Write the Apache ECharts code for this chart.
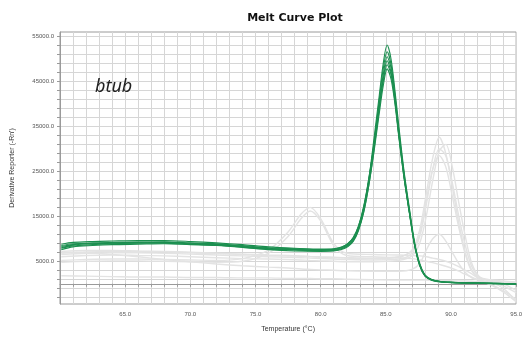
<!DOCTYPE html>
<html>
<head>
<meta charset="utf-8">
<script src="https://cdn.jsdelivr.net/npm/echarts@6/dist/echarts.min.js"></script>
<style>
  html, body { margin: 0; padding: 0; background: #fff; }
  #chart { width: 525px; height: 338px; }
</style>
</head>
<body>
<div id="chart"></div>
<script>
(function() {

    // axis ticks / labels
    var yGridValues = [-3000, -1000, 1000, 3000, 5000, 7000, 9000, 11000, 13000, 15000, 17000, 19000, 21000, 23000,
        25000, 27000, 29000, 31000, 33000, 35000, 37000, 39000, 41000, 43000, 45000, 47000, 49000, 51000, 53000, 55000];
    var yLabelValues = [5000, 15000, 25000, 35000, 45000, 55000];

    // temperatures for the btub (green) traces
    var tempsGreen = [60.1, 61, 62.5, 64, 66, 68, 70, 72, 74, 76, 78, 80, 81, 81.6, 82.1, 82.5, 82.9, 83.3,
        83.7, 84.1, 84.5, 84.8, 85.1, 85.4, 85.7, 86.0, 86.4, 86.8, 87.2, 87.6, 88.0, 88.5, 89.2, 90, 92, 95];

    var green1 = [8800, 9200, 9400, 9500, 9600, 9600, 9400, 9100, 8700, 8200, 7900, 7700, 7800, 8200, 9000, 10300, 12800, 17000,
        23500, 32500, 42000, 49000, 53100, 50000, 43000, 35000, 25000, 17000, 9400, 4500, 2000, 1000, 500, 350, 200, 0];
    var green2 = [8000, 8600, 8900, 9000, 9100, 9200, 8900, 8700, 8300, 7800, 7600, 7400, 7500, 7800, 8600, 9800, 12200, 16400,
        23000, 31500, 41000, 47800, 51600, 48800, 42000, 34000, 24500, 16500, 9000, 4300, 1900, 900, 450, 300, 150, -100];
    var green3 = [8300, 8700, 9000, 9100, 9200, 9300, 9000, 8800, 8400, 7900, 7700, 7500, 7600, 8000, 8800, 10000, 12500, 16800,
        23000, 31000, 40000, 46500, 50500, 48000, 41500, 33500, 24000, 16000, 8700, 4100, 1800, 900, 450, 300, 150, 0];
    var green4 = [7600, 8200, 8500, 8700, 8800, 8900, 8700, 8500, 8100, 7600, 7300, 7200, 7300, 7600, 8300, 9400, 11800, 15800,
        22000, 30000, 39000, 45500, 49600, 47000, 41000, 33000, 23500, 15800, 8600, 4000, 1700, 800, 400, 250, 100, -100];
    var green5 = [8500, 8900, 9100, 9200, 9300, 9300, 9100, 8900, 8500, 8000, 7800, 7600, 7700, 8100, 9000, 10200, 12800, 17200,
        23500, 31000, 39500, 45000, 48700, 46500, 40500, 33000, 24000, 16300, 9000, 4300, 1900, 900, 500, 300, 150, 0];
    var green6 = [7900, 8400, 8700, 8900, 9000, 9000, 8800, 8600, 8200, 7700, 7500, 7300, 7400, 7800, 8500, 9600, 12000, 16000,
        22000, 29500, 38000, 44000, 47800, 45500, 40000, 32500, 23500, 16000, 8800, 4200, 1800, 850, 450, 280, 120, -50];

    // temperatures for the other (grey) traces
    var tempsGrey = [60.1, 62, 64, 66, 68, 70, 72, 74, 76, 77.5, 78.5, 79.2, 80, 81, 82, 84, 86, 87, 87.6, 88.1,
        88.6, 89.1, 89.6, 90.1, 90.6, 91.1, 91.6, 92.2, 93, 94, 95];

    var greyA1 = [6800, 7100, 7200, 7200, 7100, 6900, 6700, 6500, 6300, 6200, 6100, 6000, 5900, 5800, 5700, 5600, 5900, 7500, 12000, 20000,
        28000, 32600, 29000, 21500, 13500, 7000, 3000, 1300, 800, 500, 300];
    var greyA2 = [6500, 6800, 6900, 6900, 6800, 6600, 6400, 6200, 6000, 5900, 5800, 5700, 5600, 5500, 5400, 5300, 5500, 6800, 10500, 17500,
        25500, 30000, 28500, 22500, 15000, 8500, 3800, 1500, 900, 600, 400];
    var greyA3 = [7200, 7400, 7400, 7300, 7200, 7000, 6800, 6600, 6400, 6300, 6200, 6100, 6000, 5900, 5800, 5700, 6000, 7200, 11000, 18500,
        25500, 28500, 26000, 19500, 12500, 6500, 2800, 1200, 700, 400, 200];
    var greyA4 = [6000, 6300, 6400, 6300, 6200, 6000, 5800, 5600, 5500, 5400, 5300, 5200, 5100, 5000, 4900, 4900, 5200, 6200, 9000, 15000,
        23000, 29500, 31000, 26000, 18000, 10500, 4500, 1500, 600, 0, -1500];
    var greyB1 = [5200, 5400, 5500, 5500, 5400, 5300, 5200, 5600, 7500, 11500, 15500, 17000, 14500, 9000, 6800, 6500, 6400, 6300, 6200, 6000,
        5700, 5400, 5000, 4500, 3800, 3000, 2200, 1000, 0, -1500, -3500];
    var greyB2 = [4800, 5000, 5100, 5100, 5000, 4900, 4800, 5000, 6800, 10500, 14500, 16200, 14000, 8500, 6300, 6000, 5800, 5600, 5300, 5000,
        4700, 4300, 3900, 3400, 2800, 2100, 1500, 700, -200, -1800, -4000];
    var greyC1 = [7000, 6900, 6500, 6000, 5400, 4900, 4400, 4000, 3700, 3500, 3300, 3200, 3100, 3000, 2900, 2800, 2800, 3200, 4500, 7500,
        10000, 11000, 9500, 7000, 4500, 2500, 1300, 800, 300, -500, -2000];
    var greyC2 = [1800, 1700, 1600, 1500, 1500, 1400, 1400, 1300, 1300, 1200, 1200, 1200, 1100, 1100, 1000, 900, 800, 800, 800, 800,
        750, 700, 700, 650, 600, 600, 550, 500, 300, -1000, -3800];

    var greenTraces = [green1, green2, green3, green4, green5, green6],
        greyTraces = [greyA1, greyA2, greyA3, greyA4, greyB1, greyB2, greyC1, greyC2];

    var pair = function(xs, ys) {
        return ys.map(function(v, i) { return [xs[i], v]; });
    };

    var series = [];
    greyTraces.forEach(function(ys, i) {
        series.push({
            name: 'grey' + i,
            type: 'line',
            data: pair(tempsGrey, ys),
            smooth: 0.3,
            showSymbol: false,
            lineStyle: { color: '#e3e3e3', width: 1.4 }
        });
    });
    greenTraces.forEach(function(ys, i) {
        series.push({
            name: 'btub' + i,
            type: 'line',
            data: pair(tempsGreen, ys),
            smooth: 0.3,
            showSymbol: false,
            lineStyle: { color: '#1c8f50', width: 1.1 }
        });
    });

    var chart = echarts.init(document.getElementById('chart'));
    chart.setOption({
        animation: false,
        title: {
            text: 'Melt Curve Plot',
            left: 290,
            textAlign: 'center',
            top: 8,
            textStyle: { fontFamily: 'DejaVu Sans', fontSize: 11, fontWeight: 'bold', color: '#111' }
        },
        grid: {
            left: 60, right: 6, top: 32, bottom: 31,
            show: true,
            borderColor: '#9a9a9a',
            borderWidth: 1
        },
        graphic: [{
            type: 'text',
            left: 95,
            top: 78,
            z: 100,
            style: {
                text: 'btub',
                fontFamily: 'Noto Sans',
                fontStyle: 'italic',
                fontSize: 18,
                fill: '#222'
            }
        }],
        xAxis: {
            type: 'value',
            min: 60,
            max: 95,
            interval: 1,
            name: 'Temperature (°C)',
            nameLocation: 'middle',
            nameGap: 22,
            nameTextStyle: { fontFamily: 'Liberation Sans', fontSize: 7, color: '#333' },
            axisLine: { show: true, lineStyle: { color: '#9a9a9a' } },
            axisTick: { show: true, length: 3, lineStyle: { color: '#9a9a9a' } },
            axisLabel: {
                fontFamily: 'Liberation Sans', fontSize: 6, color: '#555', margin: 7,
                formatter: function(v) { return (v % 5 === 0 && v > 60) ? v.toFixed(1) : ''; }
            },
            splitLine: { show: true, lineStyle: { color: '#d6d6d6', width: 1 } }
        },
        yAxis: {
            type: 'value',
            min: -4500,
            max: 56000,
            name: "Derivative Reporter (-Rn')",
            nameLocation: 'middle',
            nameGap: 44,
            nameTextStyle: { fontFamily: 'Liberation Sans', fontSize: 7, color: '#333' },
            axisLine: { show: true, lineStyle: { color: '#9a9a9a' } },
            axisTick: { show: true, length: 3, customValues: yGridValues, lineStyle: { color: '#9a9a9a' } },
            axisLabel: {
                customValues: yLabelValues,
                fontFamily: 'Liberation Sans', fontSize: 6, color: '#555', margin: 6,
                formatter: function(v) { return v.toFixed(1); }
            },
            splitLine: { show: true, lineStyle: { color: '#d6d6d6', width: 1 } }
        },
        series: series
    });

}());
</script>
</body>
</html>
